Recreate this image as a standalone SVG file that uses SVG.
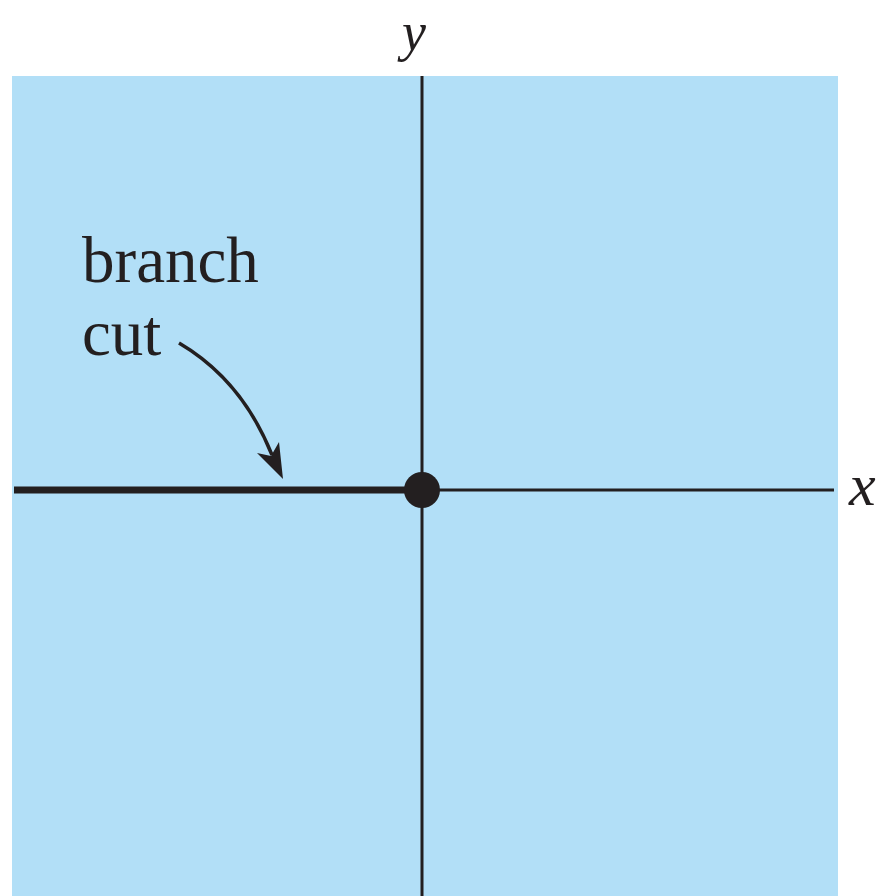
<svg xmlns="http://www.w3.org/2000/svg" width="891" height="896" viewBox="0 0 891 896">
<style>
.lbl{font-family:"Liberation Serif","Times New Roman",serif;fill:#231f20}
.it{font-style:italic}
.ax{stroke:#231f20;stroke-width:3;fill:none}
</style>
<rect x="0" y="0" width="891" height="896" fill="#ffffff"/>
<rect id="plane" x="12" y="76" width="826" height="820" fill="#b2dff7"/>
<g id="connectors">
<line class="ax" x1="422" y1="76" x2="422" y2="896"/>
<line class="ax" x1="422" y1="490" x2="834" y2="490"/>
<line x1="14" y1="490" x2="422" y2="490" stroke="#231f20" stroke-width="7"/>
<path d="M179 343 Q242 380 272 455" fill="none" stroke="#231f20" stroke-width="3.5"/>
<path d="M283 479 L257 453 L271 456 L279 442 Z" fill="#231f20"/>
</g>
<g id="origin"><circle cx="422" cy="490" r="18" fill="#231f20"/></g>
<g id="labels">
<text class="lbl it" x="402" y="50" font-size="54">y</text>
<text class="lbl it" x="849" y="505" font-size="60">x</text>
<text class="lbl" x="82" y="282" font-size="65">branch</text>
<text class="lbl" x="82" y="355" font-size="65">cut</text>
</g>
</svg>
